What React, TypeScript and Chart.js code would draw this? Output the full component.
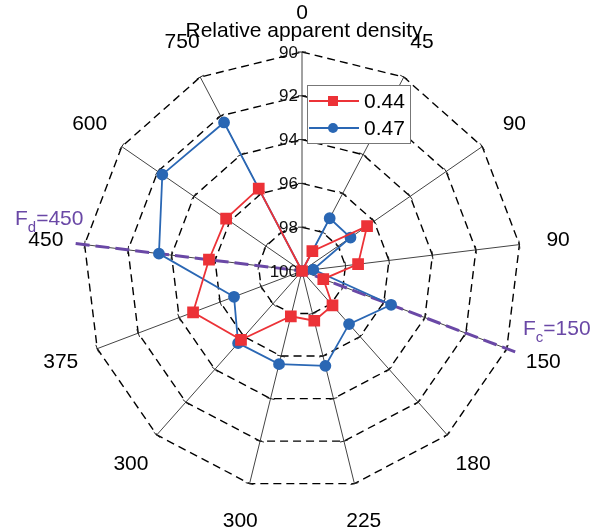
import React, { useEffect, useRef } from "react";
import { Chart, registerables } from "chart.js";

Chart.register(...registerables);

// ---- data ----
const categories = ["0", "45", "90", "90", "150", "180", "225", "300", "300", "375", "450", "600", "750"];
const series044 = [100, 98.98, 96.39, 97.42, 98.96, 97.9, 97.66, 97.87, 95.8, 94.68, 95.72, 95.79, 95.75];
const series047 = [100, 97.28, 97.31, 99.48, 95.65, 96.76, 95.54, 95.62, 95.6, 96.68, 93.42, 92.25, 92.34];
const seriesNames = ["0.44", "0.47"];
const radialTicks = [90, 92, 94, 96, 98, 100];
const highlightSpokes = [10, 4]; // Fd=450, Fc=150
const annotations = [
  { main: "F", sub: "d", rest: "=450" },
  { main: "F", sub: "c", rest: "=150" },
];

const FONT = "'Liberation Sans', Arial, sans-serif";
const RED = "#ec3237";
const BLUE = "#2a67b4";
const PURPLE = "#6a48a6";

function drawSubText(ctx: CanvasRenderingContext2D, x: number, y: number, a: { main: string; sub: string; rest: string }) {
  ctx.fillStyle = PURPLE;
  ctx.textAlign = "left";
  ctx.textBaseline = "alphabetic";
  ctx.font = `21px ${FONT}`;
  ctx.fillText(a.main, x, y);
  let cx = x + ctx.measureText(a.main).width;
  ctx.font = `15px ${FONT}`;
  ctx.fillText(a.sub, cx, y + 7);
  cx += ctx.measureText(a.sub).width;
  ctx.font = `21px ${FONT}`;
  ctx.fillText(a.rest, cx, y);
}

const decorPlugin = {
  id: "decor",
  beforeDatasetsDraw(chart: any) {
    const scale = chart.scales.r;
    const ctx: CanvasRenderingContext2D = chart.ctx;
    const n = categories.length;
    const R = scale.drawingArea;
    ctx.save();
    // small perpendicular ticks where spokes cross rings
    ctx.strokeStyle = "#222";
    ctx.lineWidth = 1;
    ctx.setLineDash([]);
    for (let i = 0; i < n; i++) {
      const ang = scale.getIndexAngle(i) - Math.PI / 2;
      const px = -Math.sin(ang);
      const py = Math.cos(ang);
      radialTicks.forEach((v) => {
        if (v === 100) return;
        const d = scale.getDistanceFromCenterForValue(v);
        const p = scale.getPointPosition(i, d);
        ctx.beginPath();
        ctx.moveTo(p.x - px * 4, p.y - py * 4);
        ctx.lineTo(p.x + px * 4, p.y + py * 4);
        ctx.stroke();
      });
    }
    // highlighted purple dashed spokes
    ctx.strokeStyle = PURPLE;
    ctx.lineWidth = 3;
    ctx.setLineDash([14, 6]);
    highlightSpokes.forEach((i) => {
      const p = scale.getPointPosition(i, R + 9);
      ctx.beginPath();
      ctx.moveTo(p.x, p.y);
      ctx.lineTo(scale.xCenter, scale.yCenter);
      ctx.stroke();
    });
    ctx.setLineDash([]);
    // radial tick labels along the top spoke
    ctx.fillStyle = "#111";
    ctx.font = `17px ${FONT}`;
    ctx.textAlign = "right";
    ctx.textBaseline = "middle";
    radialTicks.forEach((v) => {
      const d = scale.getDistanceFromCenterForValue(v);
      const p = scale.getPointPosition(0, d);
      ctx.fillText(String(v), p.x - 4, p.y + 1);
    });
    ctx.restore();
  },
  afterDraw(chart: any) {
    const scale = chart.scales.r;
    const ctx: CanvasRenderingContext2D = chart.ctx;
    const R = scale.drawingArea;
    ctx.save();
    // point labels
    ctx.fillStyle = "#000";
    ctx.font = `21px ${FONT}`;
    ctx.textAlign = "center";
    ctx.textBaseline = "middle";
    categories.forEach((lab, i) => {
      const p = scale.getPointPosition(i, R + 39);
      ctx.fillText(lab, p.x, p.y);
    });
    // title
    ctx.font = `21px ${FONT}`;
    ctx.fillText("Relative apparent density", scale.xCenter + 2, 31);
    // annotations
    drawSubText(ctx, 15, 225, annotations[0]);
    drawSubText(ctx, 523, 335, annotations[1]);
    // legend
    const lx = 307, ly = 85, lw = 103, lh = 58;
    ctx.fillStyle = "#fff";
    ctx.fillRect(lx, ly, lw, lh);
    ctx.strokeStyle = "#777";
    ctx.lineWidth = 1;
    ctx.strokeRect(lx + 0.5, ly + 0.5, lw, lh);
    const rows = [ly + 16, ly + 43];
    chart.data.datasets.forEach((ds: any, k: number) => {
      const y = rows[k];
      ctx.strokeStyle = ds.borderColor;
      ctx.lineWidth = 2;
      ctx.beginPath();
      ctx.moveTo(lx + 2, y);
      ctx.lineTo(lx + 52, y);
      ctx.stroke();
      ctx.fillStyle = ds.borderColor;
      if (ds.pointStyle === "rect") {
        ctx.fillRect(lx + 21, y - 5, 10, 10);
      } else {
        ctx.beginPath();
        ctx.arc(lx + 26, y, 5, 0, Math.PI * 2);
        ctx.fill();
      }
      ctx.fillStyle = "#000";
      ctx.font = `21px ${FONT}`;
      ctx.textAlign = "left";
      ctx.textBaseline = "middle";
      ctx.fillText(ds.label, lx + 57, y + 1);
    });
    ctx.restore();
  },
};

export default function App() {
  const ref = useRef<HTMLCanvasElement | null>(null);
  useEffect(() => {
    document.body.style.margin = "0";
    const canvas = ref.current;
    if (!canvas) return;
    const chart = new Chart(canvas, {
      type: "radar",
      data: {
        labels: categories,
        datasets: [
          {
            label: seriesNames[0],
            data: series044,
            borderColor: RED,
            backgroundColor: RED,
            pointBackgroundColor: RED,
            pointBorderColor: RED,
            pointStyle: "rect",
            pointRadius: 7,
            borderWidth: 1.8,
            fill: false,
          },
          {
            label: seriesNames[1],
            data: series047,
            borderColor: BLUE,
            backgroundColor: BLUE,
            pointBackgroundColor: BLUE,
            pointBorderColor: BLUE,
            pointStyle: "circle",
            pointRadius: 5,
            borderWidth: 1.8,
            fill: false,
          },
        ],
      },
      options: {
        animation: false,
        responsive: false,
        devicePixelRatio: 1,
        layout: { padding: { left: 83, top: 52, right: 71, bottom: 39 } },
        elements: { line: { tension: 0 } },
        plugins: { legend: { display: false }, tooltip: { enabled: false }, title: { display: false } },
        scales: {
          r: {
            min: 90,
            max: 100,
            reverse: true,
            beginAtZero: false,
            ticks: { display: false, stepSize: 2 },
            pointLabels: { display: false },
            grid: { circular: false, color: "#000", lineWidth: 1.4 },
            border: { dash: [8, 5] },
            angleLines: { display: true, color: "#444", lineWidth: 1 },
          } as any,
        },
      },
      plugins: [decorPlugin],
    });
    return () => chart.destroy();
  }, []);
  return (
    <div style={{ width: 592, height: 529 }}>
      <canvas ref={ref} width={592} height={529} style={{ display: "block" }} />
    </div>
  );
}
